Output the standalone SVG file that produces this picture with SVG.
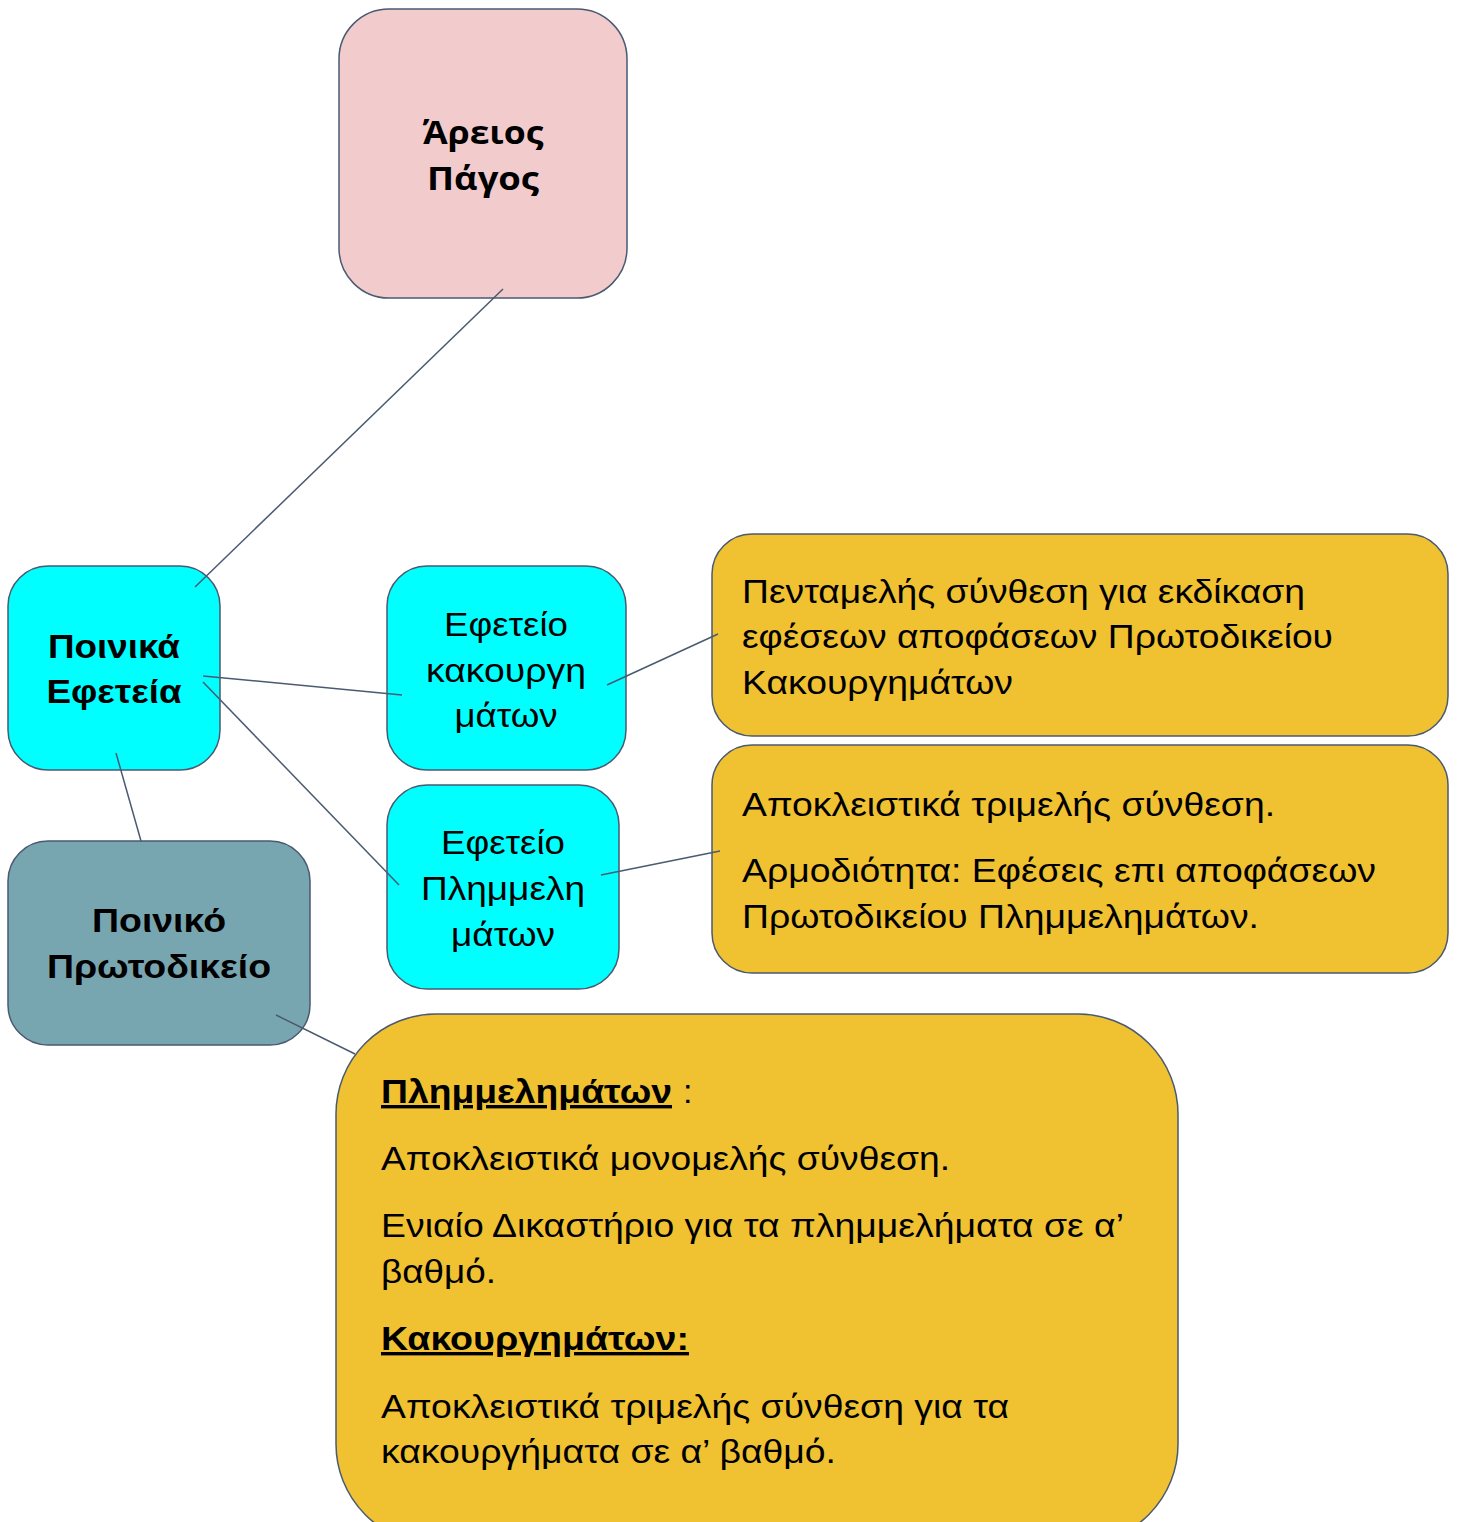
<svg xmlns="http://www.w3.org/2000/svg" width="1458" height="1522" viewBox="0 0 1458 1522">
<style>
.box{stroke:#4a5a70;stroke-width:1.5}
.pink{fill:#f2cccc}
.cyan{fill:#00ffff}
.teal{fill:#78a6b0}
.gold{fill:#f0c232}
.t{font-family:"Liberation Sans",Arial,sans-serif;font-size:34px;fill:#000}
.b{font-weight:bold}
.c{text-anchor:middle}
.cal{font-family:"Open Sans","Liberation Sans",sans-serif;font-weight:bold;font-size:33px}
.conn line{stroke:#4a5a70;stroke-width:1.5}
</style>
<g id="areios">
<rect class="box pink" x="339" y="9" width="288" height="289" rx="50"/>
<text class="t cal c" x="483" y="144" textLength="121" lengthAdjust="spacingAndGlyphs">Άρειος</text>
<text class="t cal c" x="483" y="190" textLength="112" lengthAdjust="spacingAndGlyphs">Πάγος</text>
</g>
<g id="poinika-efeteia">
<rect class="box cyan" x="8" y="566" width="212" height="204" rx="40"/>
<text class="t b c" x="114" y="658" textLength="132" lengthAdjust="spacingAndGlyphs">Ποινικά</text>
<text class="t b c" x="114" y="703" textLength="135" lengthAdjust="spacingAndGlyphs">Εφετεία</text>
</g>
<g id="efeteio-kak">
<rect class="box cyan" x="387" y="566" width="239" height="204" rx="40"/>
<text class="t c" x="506" y="636" textLength="124" lengthAdjust="spacingAndGlyphs">Εφετείο</text>
<text class="t c" x="506" y="682" textLength="160" lengthAdjust="spacingAndGlyphs">κακουργη</text>
<text class="t c" x="506" y="727" textLength="103" lengthAdjust="spacingAndGlyphs">μάτων</text>
</g>
<g id="efeteio-plim">
<rect class="box cyan" x="387" y="785" width="232" height="204" rx="40"/>
<text class="t c" x="503" y="854" textLength="124" lengthAdjust="spacingAndGlyphs">Εφετείο</text>
<text class="t c" x="503" y="900" textLength="164" lengthAdjust="spacingAndGlyphs">Πλημμελη</text>
<text class="t c" x="503" y="946" textLength="104" lengthAdjust="spacingAndGlyphs">μάτων</text>
</g>
<g id="protodikeio">
<rect class="box teal" x="8" y="841" width="302" height="204" rx="40"/>
<text class="t b c" x="159" y="932" textLength="134" lengthAdjust="spacingAndGlyphs">Ποινικό</text>
<text class="t b c" x="159" y="978" textLength="224" lengthAdjust="spacingAndGlyphs">Πρωτοδικείο</text>
</g>
<g id="info-kak">
<rect class="box gold" x="712" y="534" width="736" height="202" rx="40"/>
<text class="t" x="742" y="603" textLength="563" lengthAdjust="spacingAndGlyphs">Πενταμελής σύνθεση για εκδίκαση</text>
<text class="t" x="742" y="648" textLength="591" lengthAdjust="spacingAndGlyphs">εφέσεων αποφάσεων Πρωτοδικείου</text>
<text class="t" x="742" y="694" textLength="271" lengthAdjust="spacingAndGlyphs">Κακουργημάτων</text>
</g>
<g id="info-plim">
<rect class="box gold" x="712" y="745" width="736" height="228" rx="40"/>
<text class="t" x="742" y="816" textLength="533" lengthAdjust="spacingAndGlyphs">Αποκλειστικά τριμελής σύνθεση.</text>
<text class="t" x="742" y="882" textLength="634" lengthAdjust="spacingAndGlyphs">Αρμοδιότητα: Εφέσεις επι αποφάσεων</text>
<text class="t" x="742" y="928" textLength="517" lengthAdjust="spacingAndGlyphs">Πρωτοδικείου Πλημμελημάτων.</text>
</g>
<g id="info-protodikeio">
<rect class="box gold" x="336" y="1014" width="842" height="530" rx="100"/>
<text class="t b" x="381" y="1103" text-decoration="underline" textLength="291" lengthAdjust="spacingAndGlyphs">Πλημμελημάτων</text>
<text class="t" x="683" y="1103">:</text>
<text class="t" x="381" y="1170" textLength="569" lengthAdjust="spacingAndGlyphs">Αποκλειστικά μονομελής σύνθεση.</text>
<text class="t" x="381" y="1237" textLength="743" lengthAdjust="spacingAndGlyphs">Ενιαίο Δικαστήριο για τα πλημμελήματα σε α’</text>
<text class="t" x="381" y="1283" textLength="115" lengthAdjust="spacingAndGlyphs">βαθμό.</text>
<text class="t b" x="381" y="1350" text-decoration="underline" textLength="308" lengthAdjust="spacingAndGlyphs">Κακουργημάτων:</text>
<text class="t" x="381" y="1418" textLength="628" lengthAdjust="spacingAndGlyphs">Αποκλειστικά τριμελής σύνθεση για τα</text>
<text class="t" x="381" y="1463" textLength="455" lengthAdjust="spacingAndGlyphs">κακουργήματα σε α’ βαθμό.</text>
</g>
<g class="conn">
<line x1="503" y1="289" x2="195" y2="587"/>
<line x1="203" y1="676" x2="402" y2="695"/>
<line x1="203" y1="682" x2="399" y2="885"/>
<line x1="607" y1="685" x2="718" y2="634"/>
<line x1="601" y1="875" x2="720" y2="851"/>
<line x1="116" y1="753" x2="141" y2="841"/>
<line x1="276" y1="1015" x2="355" y2="1054"/>
</g>
</svg>
